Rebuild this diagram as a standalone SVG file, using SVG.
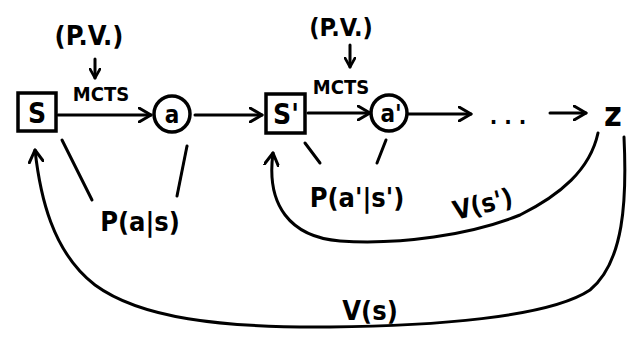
<svg xmlns="http://www.w3.org/2000/svg" width="639" height="339" viewBox="0 0 639 339">
<style>
.t{font-family:"DejaVu Sans Condensed","Liberation Sans Narrow","Liberation Sans",sans-serif;font-weight:bold;fill:#000}
.ln{fill:none;stroke:#000;stroke-width:3;stroke-linecap:round;stroke-linejoin:round}
.nd{fill:#fff;stroke:#000;stroke-width:3.5}
</style>
<defs>
<marker id="ah" viewBox="0 0 12 12" refX="10" refY="6" markerWidth="12" markerHeight="12" markerUnits="userSpaceOnUse" orient="auto">
<path d="M1,1 L10,6 L1,11" fill="none" stroke="#000" stroke-width="2.6" stroke-linecap="round" stroke-linejoin="round"/>
</marker>
<marker id="ahL" viewBox="0 0 16 16" refX="13" refY="8" markerWidth="16" markerHeight="16" markerUnits="userSpaceOnUse" orient="auto">
<path d="M1,1 L13,8 L1,15" fill="none" stroke="#000" stroke-width="3" stroke-linecap="round" stroke-linejoin="round"/>
</marker>
</defs>
<rect width="639" height="339" fill="#fff"/>
<g id="connectors">
<path class="ln" d="M58,115 L151,115" marker-end="url(#ahL)"/>
<path class="ln" d="M195,115 L262,115" marker-end="url(#ahL)"/>
<path class="ln" d="M308,113 L370,113" marker-end="url(#ahL)"/>
<path class="ln" d="M408,114 L471,114" marker-end="url(#ahL)"/>
<path class="ln" d="M550,113 L586,113" marker-end="url(#ahL)"/>
<path class="ln" d="M95,59 L95,78" marker-end="url(#ah)"/>
<path class="ln" d="M350,45 L350,67" marker-end="url(#ah)"/>
<path class="ln" d="M62,140 L92,200"/>
<path class="ln" d="M187,146 L177,196"/>
<path class="ln" d="M305,143 L320,163"/>
<path class="ln" d="M386,140 L377,163"/>
<path class="ln" d="M598,133 C590,170 560,195 520,215 C470,235 400,245 340,241 C290,237 266,205 273,153" marker-end="url(#ahL)"/>
<path class="ln" d="M624,137 C627,200 624,262 590,290 C548,318 430,326 330,327 C220,328 140,318 95,285 C52,252 40,195 35,150" marker-end="url(#ahL)"/>
</g>
<g id="pv1"><text class="t" x="89" y="45" font-size="27" text-anchor="middle">(P.V.)</text></g>
<g id="mcts1"><text class="t" x="101" y="101" font-size="20" text-anchor="middle">MCTS</text></g>
<g id="pv2"><text class="t" x="341" y="36" font-size="25" text-anchor="middle">(P.V.)</text></g>
<g id="mcts2"><text class="t" x="341" y="94" font-size="20" text-anchor="middle">MCTS</text></g>
<g id="node-s">
<rect class="nd" x="18" y="93" width="38" height="38"/>
<text class="t" x="37" y="123" font-size="28" text-anchor="middle">S</text>
</g>
<g id="node-a">
<circle class="nd" cx="172" cy="114" r="18"/>
<text class="t" x="172" y="123" font-size="24" text-anchor="middle">a</text>
</g>
<g id="node-s2">
<rect class="nd" x="266" y="94" width="39" height="39"/>
<text class="t" x="286" y="124" font-size="28" text-anchor="middle">S'</text>
</g>
<g id="node-a2">
<circle class="nd" cx="389" cy="113" r="18"/>
<text class="t" x="391" y="122" font-size="24" text-anchor="middle">a'</text>
</g>
<g id="dots"><text class="t" x="508" y="124" font-size="22" text-anchor="middle">. . .</text></g>
<g id="node-z"><text class="t" x="613" y="126" font-size="34" text-anchor="middle">z</text></g>
<g id="lbl-pas"><text class="t" x="140" y="231" font-size="27" text-anchor="middle">P(a|s)</text></g>
<g id="lbl-pas2"><text class="t" x="357" y="207" font-size="27" text-anchor="middle">P(a'|s')</text></g>
<g id="lbl-vs2"><text class="t" x="483" y="213" font-size="26" text-anchor="middle" transform="rotate(-14 483 205)">V(s')</text></g>
<g id="lbl-vs"><text class="t" x="370" y="320" font-size="27" text-anchor="middle">V(s)</text></g>
</svg>
